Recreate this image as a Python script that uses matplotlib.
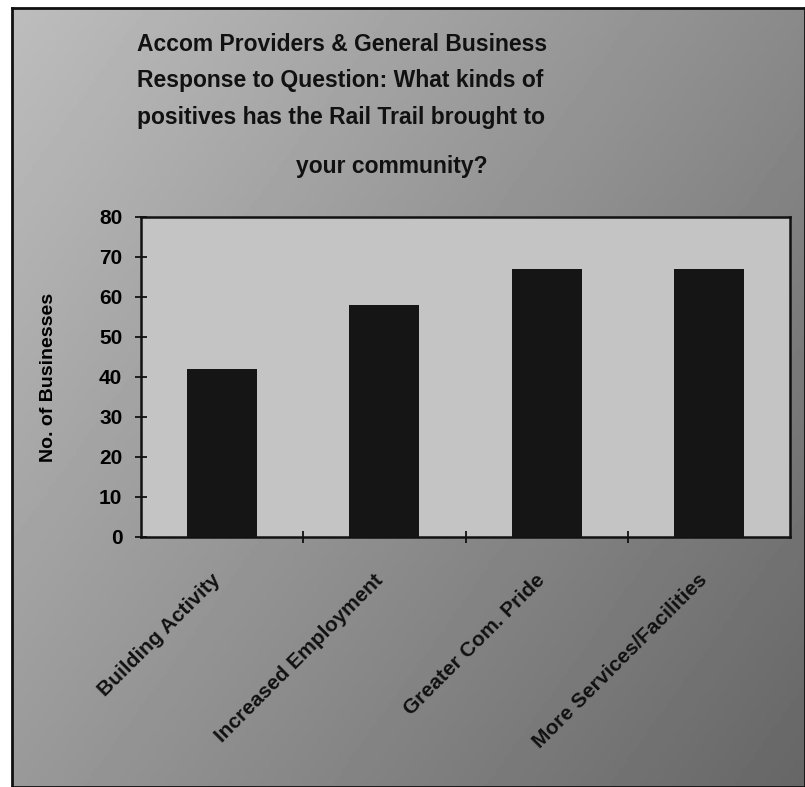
import matplotlib
matplotlib.use("Agg")
import matplotlib.pyplot as plt
import numpy as np

categories = [
    "Building Activity",
    "Increased Employment",
    "Greater Com. Pride",
    "More Services/Facilities",
]
businesses = [42, 58, 67, 67]
y_ticks = [0, 10, 20, 30, 40, 50, 60, 70, 80]

TITLE_LINES = [
    "Accom Providers & General Business\n"
    "Response to Question: What kinds of\n"
    "positives has the Rail Trail brought to",
    "your community?",
]

W, H = 805, 787

plt.rcParams["font.family"] = ["Liberation Sans", "DejaVu Sans"]
plt.rcParams["font.weight"] = "bold"

fig = plt.figure(figsize=(W / 100, H / 100), dpi=100)
fig.patch.set_facecolor("white")

# shaded backdrop, light at the top left and darker towards the bottom right
bg = fig.add_axes([12 / W, 0, 1 - 12 / W, 1 - 8 / H])
yy, xx = np.mgrid[0:1:200j, 0:1:200j]
shade = 0.74 - 0.20 * xx - 0.14 * yy
bg.imshow(shade, cmap="gray", vmin=0, vmax=1, aspect="auto",
          extent=[0, 1, 0, 1], origin="upper")
bg.set_xticks([])
bg.set_yticks([])
for sp in bg.spines.values():
    sp.set_linewidth(2.0)
    sp.set_color("#111111")

ax = fig.add_axes([141 / W, 1 - 537 / H, (790 - 141) / W, (537 - 217) / H])
ax.set_facecolor("#c4c4c4")
x = np.arange(len(categories))
ax.bar(x, businesses, width=0.43, color="#151515", zorder=3)

ax.set_xlim(-0.5, len(categories) - 0.5)
ax.set_ylim(0, 80)
ax.set_yticks(y_ticks)
ax.set_yticklabels([str(v) for v in y_ticks], fontsize=15, fontweight="bold")
ax.set_xticks(np.arange(len(categories) - 1) + 0.5)
ax.set_xticklabels([])
ax.tick_params(axis="both", direction="inout", length=9, width=1.3, color="#111111")
ax.tick_params(axis="y", pad=9)
for sp in ax.spines.values():
    sp.set_linewidth(1.8)
    sp.set_color("#111111")

for xi, label in zip(x, categories):
    ax.annotate(label, xy=(xi, 0), xycoords=("data", "axes fraction"),
                xytext=(-3, -29), textcoords="offset points",
                rotation=45, ha="right", va="center", rotation_mode="anchor",
                fontsize=15, fontweight="bold", color="#111111")

ax.set_ylabel("No. of Businesses", fontsize=14, fontweight="bold")
ax.yaxis.set_label_coords(-0.129, 0.5)

fig.text(137 / W, 1 - 33 / H, TITLE_LINES[0], ha="left", va="top",
         fontsize=16.5, fontweight="bold", linespacing=1.75, color="#111111")
fig.text(296 / W, 1 - 155 / H, TITLE_LINES[1], ha="left", va="top",
         fontsize=16.5, fontweight="bold", color="#111111")

fig.savefig("out.png", dpi=100)
